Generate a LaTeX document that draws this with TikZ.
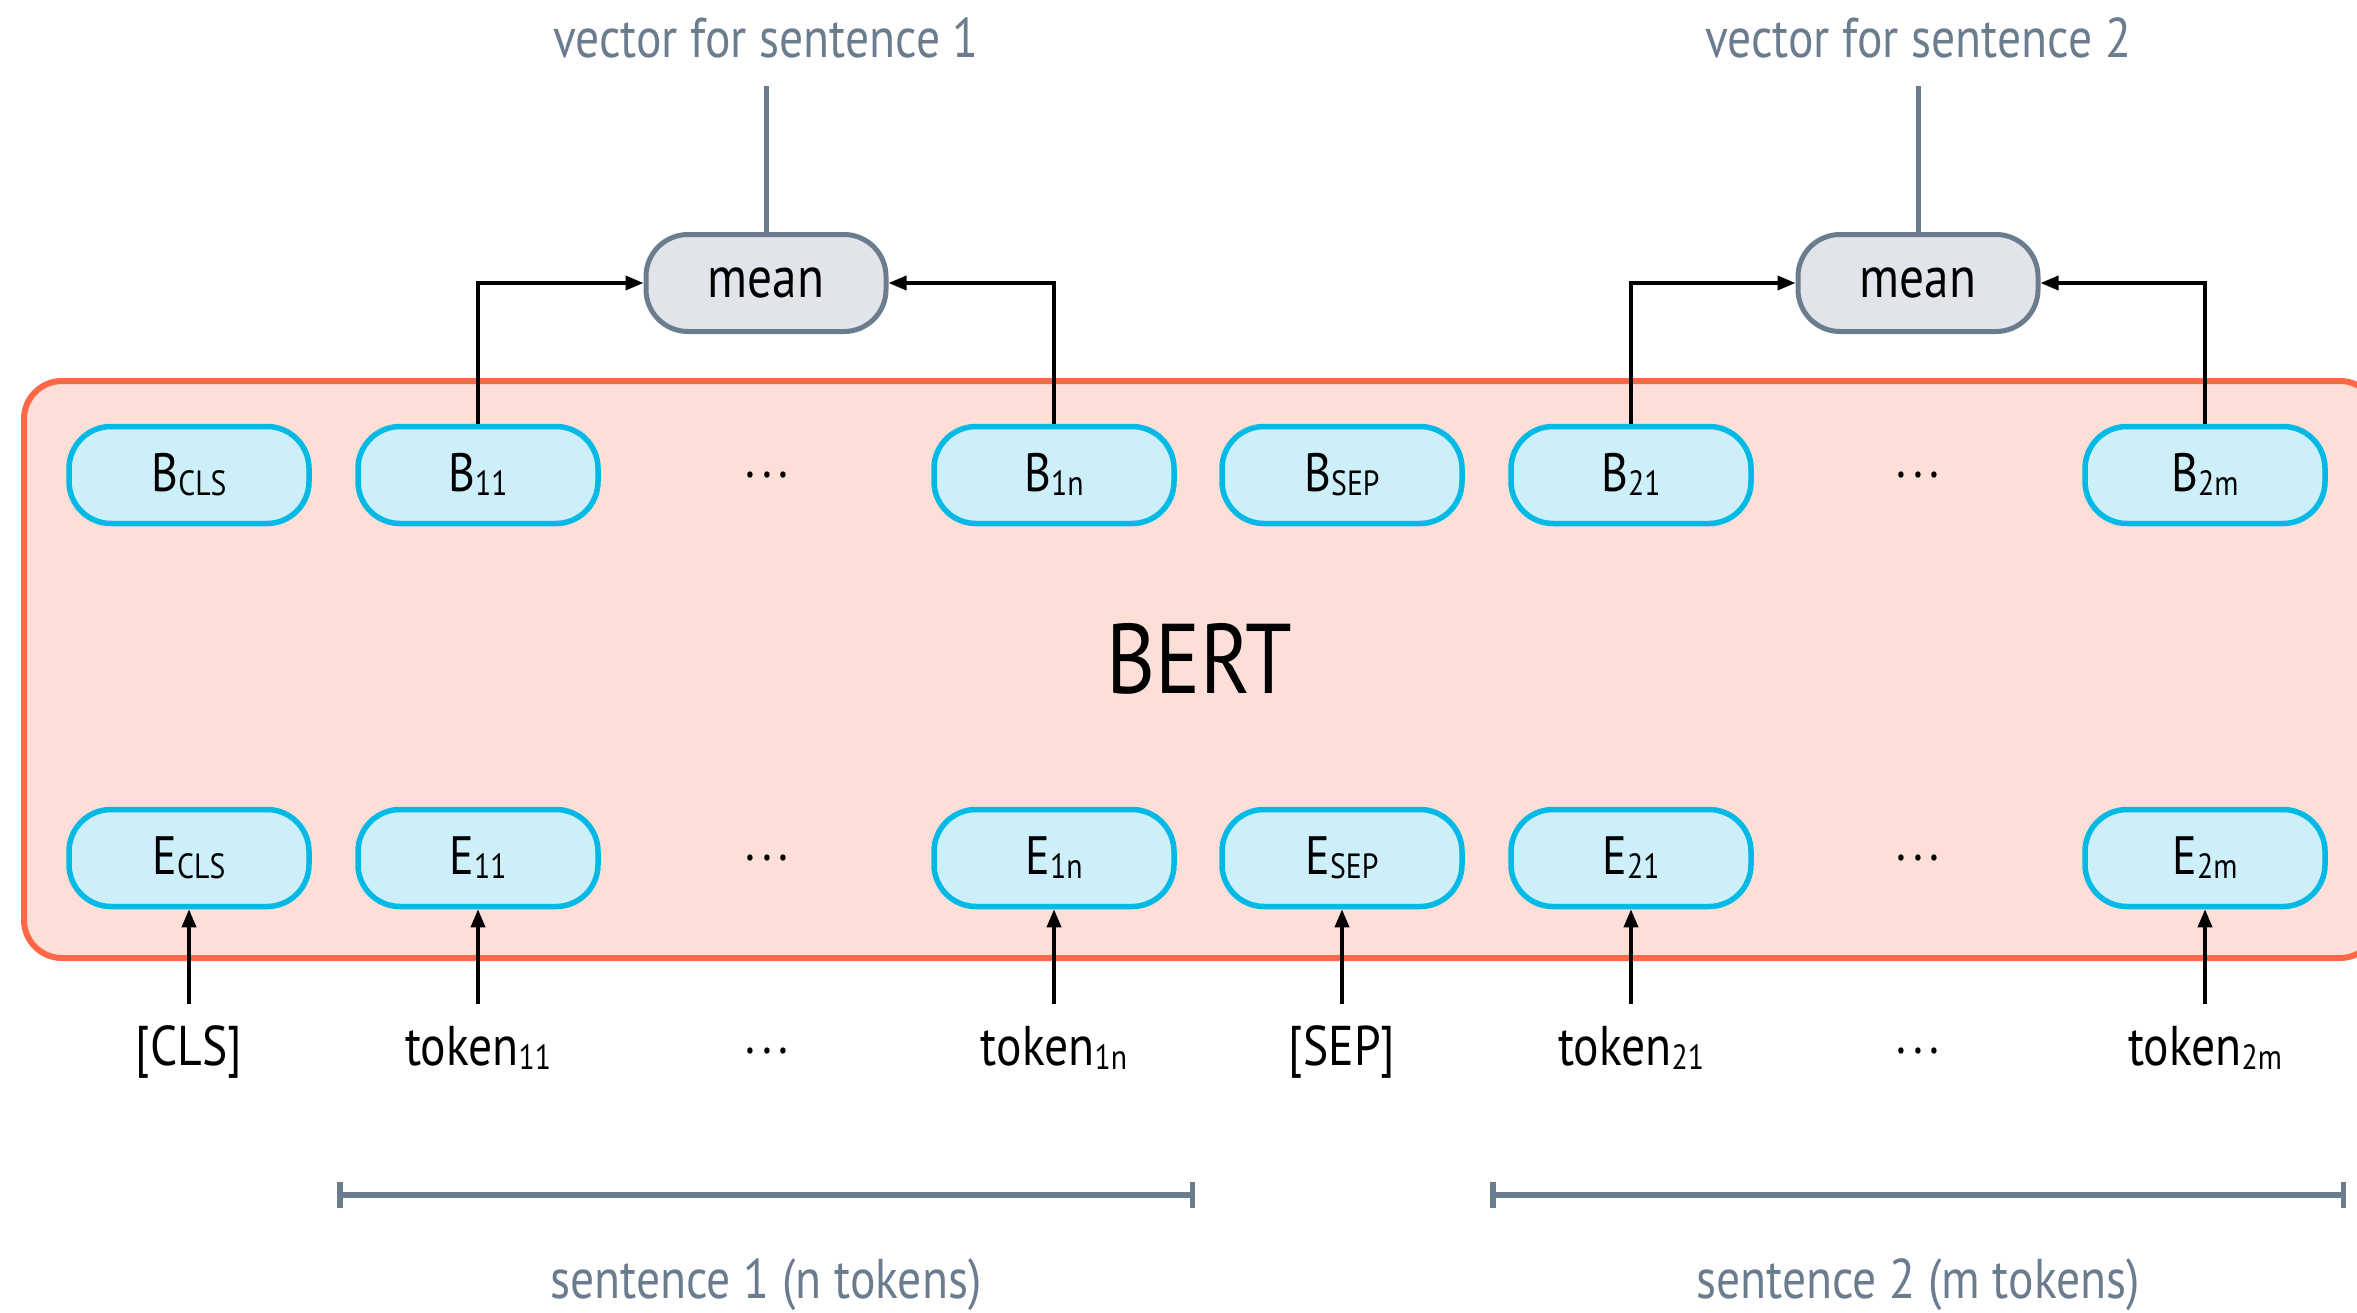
\documentclass[tikz,border=0pt]{standalone}
\usepackage{fontspec}
\setmainfont[FakeStretch=0.85]{PT Sans}
\usetikzlibrary{arrows.meta}
\definecolor{cyanline}{HTML}{00B9E4}
\definecolor{cyanfill}{HTML}{CCEFF9}
\definecolor{bertline}{HTML}{FF6746}
\definecolor{bertfill}{HTML}{FDDFD8}
\definecolor{slate}{HTML}{6B7C8F}
\definecolor{meanfill}{HTML}{E1E4E8}
\newcommand\lowsub[1]{\raisebox{-4pt}{\fontsize{35}{35}\selectfont #1}}
\newcommand\spaceddots{.\kern7pt.\kern7pt.}

\begin{document}
\begin{tikzpicture}[x=1pt,y=-1pt,
  vecbox/.style={draw=cyanline, fill=cyanfill, line width=5.5pt, rounded corners=42pt,
    minimum width=240pt, minimum height=97pt, inner sep=0pt,
    text height=37pt, text depth=4pt, font=\fontsize{54}{54}\selectfont},
  meanbox/.style={draw=slate, fill=meanfill, line width=5pt, rounded corners=42pt,
    minimum width=240pt, minimum height=97pt, inner sep=0pt,
    font=\fontsize{58}{58}\selectfont},
  toklabel/.style={anchor=base, inner sep=0pt, text height=38pt, text depth=12pt,
    font=\fontsize{56}{56}\selectfont},
  dotsl/.style={anchor=base, inner sep=0pt, font=\fontsize{54}{54}\selectfont},
  graylabel/.style={anchor=base, inner sep=0pt, text=slate, font=\fontsize{56}{56}\selectfont},
  feed/.style={-{Triangle[length=18pt,width=14pt]}, line width=3.5pt, black},
  outline/.style={slate, line width=5pt},
  span/.style={slate, line width=5.5pt, {Bar[width=26pt]}-{Bar[width=26pt]}},
]
\useasboundingbox (0,0) rectangle (2357,1312);
\clip (0,0) rectangle (2357,1312);

% BERT block
\node[draw=bertline, fill=bertfill, line width=6pt, rounded corners=38pt,
      minimum width=2354pt, minimum height=577pt, anchor=north west, inner sep=0pt]
      (bert) at (21,378) {};
\node[inner sep=0pt, anchor=base, font=\fontsize{99}{99}\selectfont] (berttext) at (1199,693) {BERT};

% output vectors
\node[vecbox] (bcls) at (189,475) {B\lowsub{CLS}};
\node[vecbox] (b11)  at (478,475) {B\lowsub{11}};
\node[dotsl]  (bd1)  at (767,477) {\spaceddots};
\node[vecbox] (b1n)  at (1054,475) {B\lowsub{1n}};
\node[vecbox] (bsep) at (1342,475) {B\lowsub{SEP}};
\node[vecbox] (b21)  at (1631,475) {B\lowsub{21}};
\node[dotsl]  (bd2)  at (1918,477) {\spaceddots};
\node[vecbox] (b2m)  at (2205,475) {B\lowsub{2m}};

% input embeddings
\node[vecbox] (ecls) at (189,858) {E\lowsub{CLS}};
\node[vecbox] (e11)  at (478,858) {E\lowsub{11}};
\node[dotsl]  (ed1)  at (767,860) {\spaceddots};
\node[vecbox] (e1n)  at (1054,858) {E\lowsub{1n}};
\node[vecbox] (esep) at (1342,858) {E\lowsub{SEP}};
\node[vecbox] (e21)  at (1631,858) {E\lowsub{21}};
\node[dotsl]  (ed2)  at (1918,860) {\spaceddots};
\node[vecbox] (e2m)  at (2205,858) {E\lowsub{2m}};

% tokens
\node[toklabel] (tcls) at (189,1065) {[CLS]};
\node[toklabel] (t11)  at (478,1065) {token\lowsub{11}};
\node[dotsl]    (td1)  at (767,1053) {\spaceddots};
\node[toklabel] (t1n)  at (1054,1065) {token\lowsub{1n}};
\node[toklabel] (tsep) at (1342,1065) {[SEP]};
\node[toklabel] (t21)  at (1631,1065) {token\lowsub{21}};
\node[dotsl]    (td2)  at (1918,1053) {\spaceddots};
\node[toklabel] (t2m)  at (2205,1065) {token\lowsub{2m}};

\foreach \t/\e in {tcls/ecls, t11/e11, t1n/e1n, tsep/esep, t21/e21, t2m/e2m}
  \draw[feed, shorten <=23pt] (\t.north) -- (\e.south);

% pooling
\node[meanbox] (mean1) at (766,283) {mean};
\node[meanbox] (mean2) at (1918,283) {mean};

\draw[feed] (b11.north) |- (mean1.west);
\draw[feed] (b1n.north) |- (mean1.east);
\draw[feed] (b21.north) |- (mean2.west);
\draw[feed] (b2m.north) |- (mean2.east);

\node[graylabel] (vec1) at (766,57) {vector for sentence 1};
\node[graylabel] (vec2) at (1918,57) {vector for sentence 2};
\draw[outline, shorten >=29pt] (mean1.north) -- (vec1.base);
\draw[outline, shorten >=29pt] (mean2.north) -- (vec2.base);

% sentence spans
\coordinate (s1a) at (337,1195);
\coordinate (s1b) at (1195,1195);
\coordinate (s2a) at (1490,1195);
\coordinate (s2b) at (2346,1195);
\draw[span] (s1a) -- (s1b);
\draw[span] (s2a) -- (s2b);
\node[graylabel] (sen1) at (766,1298) {sentence 1 (n tokens)};
\node[graylabel] (sen2) at (1918,1298) {sentence 2 (m tokens)};
\end{tikzpicture}
\end{document}
